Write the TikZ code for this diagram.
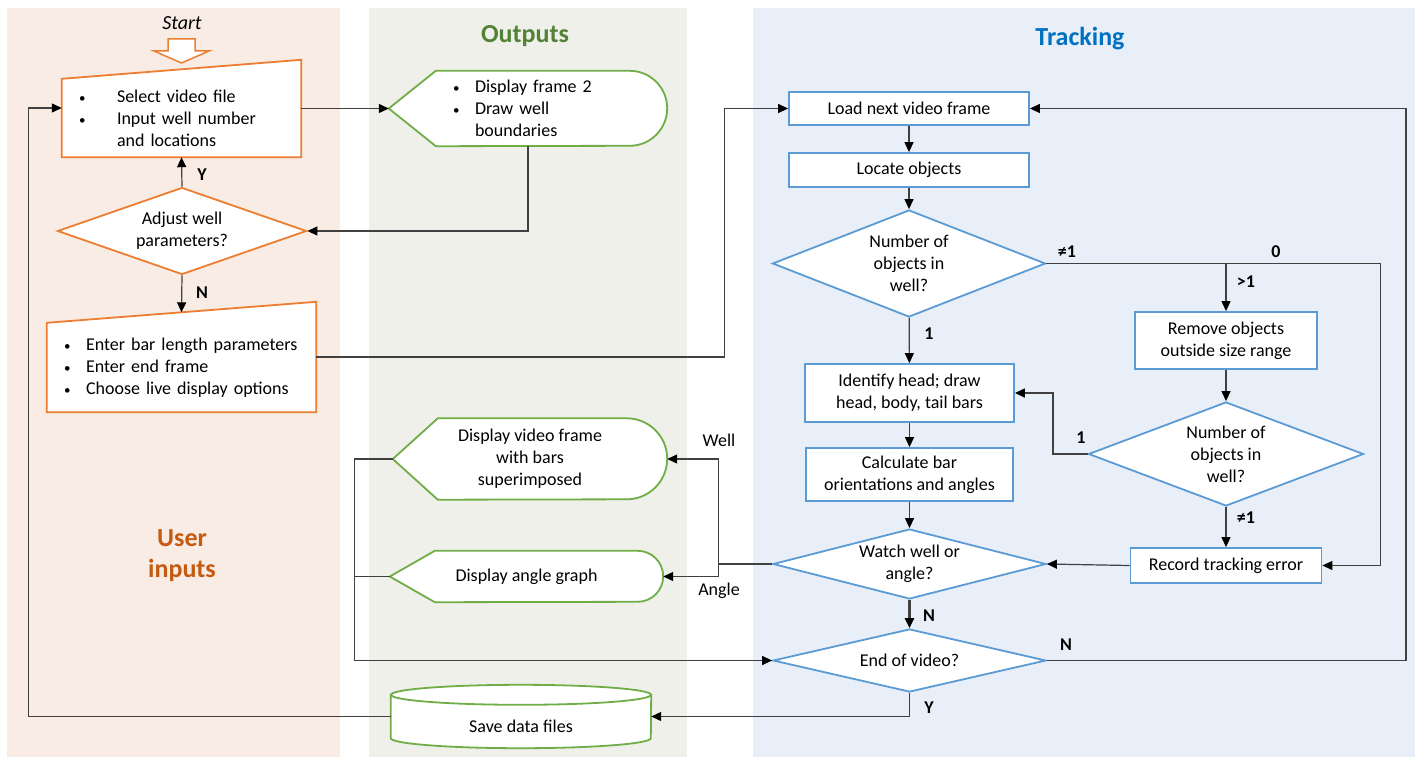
\documentclass[tikz,border=0pt]{standalone}
\usepackage{fontspec}
\setmainfont{Carlito}
\usepackage{tikz}
\usetikzlibrary{shapes,arrows.meta,positioning,calc}
\definecolor{inorange}{HTML}{ED7D31}
\definecolor{intitle}{HTML}{C55A11}
\definecolor{inpanel}{RGB}{248,236,228}
\definecolor{outgreen}{HTML}{70AD47}
\definecolor{outtitle}{HTML}{538135}
\definecolor{outpanel}{RGB}{238,240,233}
\definecolor{trkblue}{HTML}{5B9BD5}
\definecolor{trktitle}{HTML}{0070C0}
\definecolor{trkpanel}{RGB}{232,239,248}
\definecolor{linegray}{RGB}{64,64,64}
\pgfdeclarelayer{panels}
\pgfdeclarelayer{outlines}
\pgfsetlayers{panels,outlines,main}
\newcommand{\bul}[1]{\makebox[#1][l]{\fontsize{13}{13}\selectfont\textbullet}}

\begin{document}
\begin{tikzpicture}[x=1pt, y=-1pt,
  every node/.style={font=\fontsize{18}{22}\selectfont},
  ttl/.style={font=\fontsize{26}{31}\selectfont\bfseries, align=center},
  lbl/.style={font=\fontsize{18}{22}\selectfont\bfseries, inner sep=0pt},
  tbox/.style={draw=trkblue, line width=1.8pt, fill=white, align=center, inner sep=0pt},
  tdec/.style={diamond, draw=trkblue, line width=1.8pt, fill=white, align=center, inner sep=0pt},
  idec/.style={diamond, draw=inorange, line width=1.8pt, fill=white, align=center, inner sep=0pt},
  inbox/.style={align=left, inner xsep=0pt, inner ysep=0pt},
  manline/.style={draw=inorange, line width=1.8pt, fill=white},
  displine/.style={draw=outgreen, line width=1.8pt, fill=white},
  arr/.style={draw=linegray, line width=1.2pt, -{Triangle[length=10pt,width=9pt,color=black]}},
  wire/.style={draw=linegray, line width=1.2pt}]
\useasboundingbox (0,0) rectangle (1423,757);

% panels
\begin{pgfonlayer}{panels}
\fill[inpanel] (7,8) rectangle (340,757);
\fill[outpanel] (369,8) rectangle (687,757);
\fill[trkpanel] (753,8) rectangle (1415,757);
\end{pgfonlayer}

\node[ttl, text=outtitle] (outttl) at (525,36) {Outputs};
\node[ttl, text=trktitle] (trkttl) at (1080,39) {Tracking};
\node[ttl, text=intitle] (inttl) at (182,556) {User\\inputs};

% user inputs
\node[font=\fontsize{20}{24}\selectfont\itshape] (start) at (182,23) {Start};
\draw[manline, line width=1.5pt] (168,39) -- (195,39) -- (195,51) -- (209,51) -- (181.5,63) -- (154,51) -- (168,51) -- cycle;
\node[inbox, minimum width=239pt, minimum height=78pt, text width=205pt] (sel) at (181.5,118)
  {\bul{38pt}Select video file\\ \bul{38pt}Input well number\\ \hspace*{38pt}and locations};
\node[idec, minimum width=249pt, minimum height=87pt, aspect=2.86] (adj) at (182,231) {Adjust well\\parameters?};
\node[inbox, minimum width=269pt, minimum height=89pt, text width=235pt] (ent) at (181.5,367.5)
  {\bul{22pt}Enter bar length parameters\\ \bul{22pt}Enter end frame\\ \bul{22pt}Choose live display options};

% outputs
\node[minimum width=278pt, minimum height=75pt, text width=150pt, inner xsep=0pt, align=left] (disp) at (528,108.5)
  {\bul{22pt}Display frame 2\\ \bul{22pt}Draw well\\ \hspace*{22pt}boundaries};
\node[minimum width=274pt, minimum height=81pt, align=center, inner sep=0pt] (dvid) at (530,459) {Display video frame\\with bars\\superimposed};
\node[minimum width=273pt, minimum height=51pt, inner sep=0pt] (dang) at (526.5,576.5) {Display angle graph};
\node[minimum width=260pt, minimum height=63pt, inner sep=0pt] (save) at (521,716.5) {\raisebox{-9.5pt}[\height][\depth]{Save data files}};

% tracking
\node[tbox, minimum width=240pt, minimum height=33pt] (load) at (909,108.5) {Load next video frame};
\node[tbox, minimum width=240pt, minimum height=34pt] (loc) at (909,170) {Locate objects};
\node[tdec, minimum width=273pt, minimum height=107pt, aspect=2.55] (num1) at (909,263.5) {Number of\\objects in\\well?};
\node[tbox, minimum width=209pt, minimum height=58pt] (iden) at (909.5,393) {Identify head; draw\\head, body, tail bars};
\node[tbox, minimum width=207pt, minimum height=53pt] (calcbar) at (909.5,474.5) {Calculate bar\\orientations and angles};
\node[tdec, minimum width=273pt, minimum height=70pt, aspect=3.9] (watch) at (909.5,564) {Watch well or\\angle?};
\node[tdec, minimum width=273pt, minimum height=63pt, aspect=4.33] (endv) at (909.5,660.5) {End of video?};
\node[tbox, minimum width=182pt, minimum height=57pt] (rem) at (1226,340.5) {Remove objects\\outside size range};
\node[tdec, minimum width=275pt, minimum height=104pt, aspect=2.64] (num2) at (1226,454) {Number of\\objects in\\well?};
\node[tbox, minimum width=191pt, minimum height=35pt] (rec) at (1226,565.5) {Record tracking error};

% outlines behind the texts
\begin{pgfonlayer}{outlines}
\draw[manline] (sel.south west) -- (sel.north west) -- ([yshift=19pt]sel.north east) -- (sel.south east) -- cycle;
\draw[manline] (ent.south west) -- (ent.north west) -- ([yshift=21pt]ent.north east) -- (ent.south east) -- cycle;
\draw[displine] (disp.west) -- ([xshift=47pt]disp.north west) -- ([xshift=-37.5pt]disp.north east)
  arc[start angle=90, end angle=-90, radius=37.5pt] -- ([xshift=47pt]disp.south west) -- cycle;
\draw[displine] (dvid.west) -- ([xshift=45pt]dvid.north west) -- ([xshift=-40.5pt]dvid.north east)
  arc[start angle=90, end angle=-90, radius=40.5pt] -- ([xshift=45pt]dvid.south west) -- cycle;
\draw[displine] (dang.west) -- ([xshift=45pt]dang.north west) -- ([xshift=-25.5pt]dang.north east)
  arc[start angle=90, end angle=-90, radius=25.5pt] -- ([xshift=45pt]dang.south west) -- cycle;
\draw[displine] ([yshift=-10pt]save.north west) -- ([yshift=10pt]save.south west)
  arc[start angle=180, end angle=360, x radius=130pt, y radius=10pt] -- ([yshift=-10pt]save.north east) -- cycle;
\draw[displine] ([yshift=-10pt]save.north) ellipse[x radius=130pt, y radius=10pt];
\end{pgfonlayer}

% labels
\node[lbl] (ly) at (202,175) {Y};
\node[lbl] (ln) at (202,293) {N};
\node[lbl] (lne1) at (1067,252) {≠1};
\node[lbl] (lzero) at (1276,252) {0};
\node[lbl] (lgt1) at (1246,282) {>1};
\node[lbl] (lone1) at (929,334) {1};
\node[lbl] (lone2) at (1081,438) {1};
\node[lbl] (lne2) at (1246,518) {≠1};
\node[lbl] (ln2) at (929,616) {N};
\node[lbl] (ln3) at (1066,645) {N};
\node[lbl] (ly2) at (929,708) {Y};
\node (lwell) at (719,440) {Well};
\node (langle) at (719,591) {Angle};

% connectors
\draw[arr] (sel.east |- disp.west) -- (disp.west);
\draw[arr] (disp.south) |- (adj.east);
\draw[arr] (adj.north) -- (sel.south);
\draw[arr] (adj.south) -- ([yshift=10.5pt]ent.north);
\draw[arr] ([yshift=10.5pt]ent.east) -| ([xshift=-64pt]load.west) -- (load.west);
\draw[arr] (load) -- (loc);
\draw[arr] (loc) -- (num1);
\draw[arr] (num1) -- (iden);
\draw[arr] (num1.east) -| ([xshift=58pt]rec.east) -- (rec.east);
\draw[arr] (rem.north |- num1.east) -- (rem.north);
\draw[arr] (rem) -- (num2);
\draw[arr] (num2.west) -| ([xshift=38pt]iden.east) -- (iden.east);
\draw[arr] (num2) -- (rec);
\draw[arr] (rec.west) -- (watch.east);
\draw[arr] (iden) -- (calcbar);
\draw[arr] (calcbar) -- (watch);
\draw[arr, line width=2.2pt] (watch) -- (endv);
\coordinate (wj) at ([xshift=-54pt]watch.west);
\draw[arr] (watch.west) -- (wj) |- (dvid.east);
\draw[arr] (wj) |- (dang.east);
\coordinate (lj) at ([xshift=-38pt]dvid.west);
\draw[arr] (dvid.west) -- (lj) |- (endv.west);
\draw[wire] (dang.west) -- (dang.west -| lj);
\draw[arr] (endv.east) -| ([xshift=376pt]load.east) -- (load.east);
\draw[arr] (endv.south) |- (save.east);
\draw[arr] (save.west) -| ([xshift=-33pt,yshift=10pt]sel.west) -- ([yshift=10pt]sel.west);
\end{tikzpicture}
\end{document}
